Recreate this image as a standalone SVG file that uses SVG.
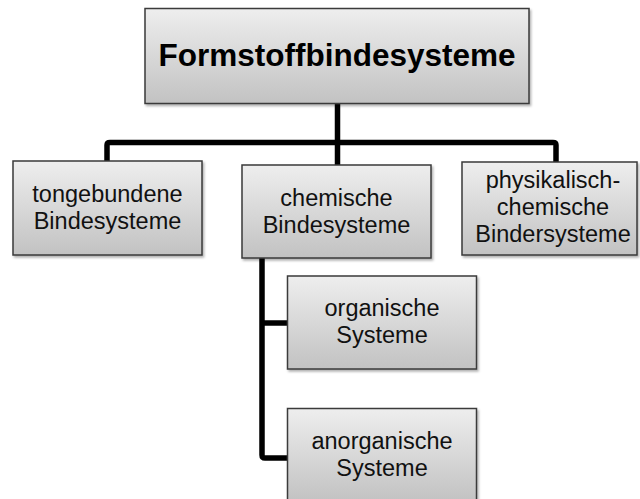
<svg xmlns="http://www.w3.org/2000/svg" width="640" height="499" viewBox="0 0 640 499">
  <defs>
    <linearGradient id="boxFill" x1="0" y1="0" x2="0" y2="1">
      <stop offset="0" stop-color="#eeeeee"/>
      <stop offset="1" stop-color="#c2c2c2"/>
    </linearGradient>
    <filter id="shadow" x="-5%" y="-5%" width="115%" height="120%">
      <feDropShadow dx="1.5" dy="2" stdDeviation="1.2" flood-color="#000" flood-opacity="0.3"/>
    </filter>
  </defs>
  <style>
    .box { fill: url(#boxFill); stroke: #3a3a3a; stroke-width: 1.5; filter: url(#shadow); }
    .lbl { font-family: "Liberation Sans", Arial, sans-serif; font-size: 23.5px; fill: #111; text-anchor: middle; }
    .title { font-family: "Liberation Sans", Arial, sans-serif; font-size: 31.5px; font-weight: bold; fill: #000; text-anchor: middle; }
    .wire { fill: none; stroke: #000; stroke-width: 5.5; stroke-linejoin: round; }
  </style>

  <rect width="640" height="499" fill="#fff"/>

  <!-- connectors -->
  <g id="connectors">
    <path class="wire" d="M337.5,104 V165"/>
    <path class="wire" d="M107,161 V145 Q107,142.5 110,142.5 H553 Q556,142.5 556,145 V162"/>
    <path class="wire" d="M262,258 V455 Q262,458 265,458 H288"/>
    <path class="wire" d="M262,323 H288"/>
  </g>

  <!-- root node -->
  <g id="node-root">
    <rect class="box" x="145" y="8.5" width="384" height="95"/>
    <text class="title" x="337" y="66">Formstoffbindesysteme</text>
  </g>

  <g id="node-tongebunden">
    <rect class="box" x="13" y="161" width="189" height="94"/>
    <text class="lbl" x="107.5" y="201.5">tongebundene</text>
    <text class="lbl" x="107.5" y="228.5">Bindesysteme</text>
  </g>

  <g id="node-chemisch">
    <rect class="box" x="242" y="165" width="189" height="93"/>
    <text class="lbl" x="336.5" y="205.5">chemische</text>
    <text class="lbl" x="336.5" y="232.5">Bindesysteme</text>
  </g>

  <g id="node-physikalisch">
    <rect class="box" x="462" y="162" width="175" height="93"/>
    <text class="lbl" x="553" y="188">physikalisch-</text>
    <text class="lbl" x="553" y="215">chemische</text>
    <text class="lbl" x="553" y="242">Bindersysteme</text>
  </g>

  <g id="node-organisch">
    <rect class="box" x="287.5" y="276" width="189" height="93"/>
    <text class="lbl" x="382" y="315.5">organische</text>
    <text class="lbl" x="382" y="342.5">Systeme</text>
  </g>

  <g id="node-anorganisch">
    <rect class="box" x="287.5" y="408.5" width="189" height="93"/>
    <text class="lbl" x="382" y="448.5">anorganische</text>
    <text class="lbl" x="382" y="475.5">Systeme</text>
  </g>
</svg>
